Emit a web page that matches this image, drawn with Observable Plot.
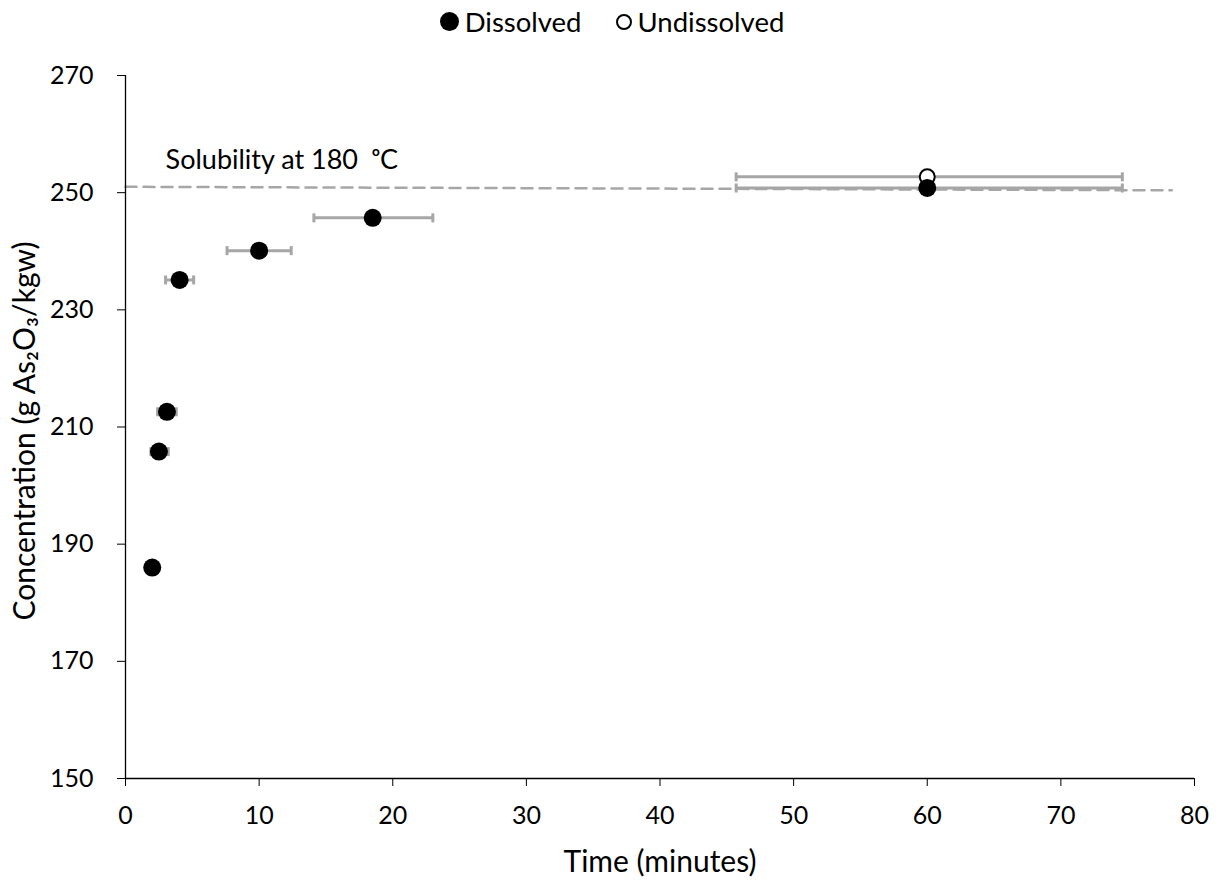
<!DOCTYPE html>
<html>
<head>
<meta charset="utf-8">
<script src="https://cdn.jsdelivr.net/npm/d3@7"></script>
<script src="https://cdn.jsdelivr.net/npm/@observablehq/plot@0.6"></script>
<style>
  body { margin: 0; background: #fff; font-family: Lato, "Noto Sans", sans-serif; }
  #legend { height: 40px; display: flex; justify-content: center; align-items: center; font-size: 27.5px; color: #000; gap: 34px; padding-top: 3px; box-sizing: border-box; }
  #legend span.item { display: inline-flex; align-items: center; gap: 6px; }
  .dot { display: inline-block; border-radius: 50%; box-sizing: border-box; }
</style>
</head>
<body>
<div id="legend">
  <span class="item"><span class="dot" style="width:19px;height:19px;background:#000"></span>Dissolved</span>
  <span class="item"><span class="dot" style="width:16px;height:16px;border:2px solid #000"></span>Undissolved</span>
</div>
<div id="chart"></div>
<script>
// Dissolved series
const dissolvedTime = [2, 2.5, 3.1, 4.05, 10, 18.5, 60];
const dissolvedConc = [186, 205.8, 212.6, 235.1, 240.1, 245.7, 250.8];
const dissolvedLo   = [2, 1.9, 2.4, 3.0, 7.6, 14.1, 45.7];
const dissolvedHi   = [2, 3.2, 3.8, 5.1, 12.4, 23.0, 74.6];
// Undissolved series
const undissolvedTime = [60];
const undissolvedConc = [252.7];
const undissolvedLo   = [45.7];
const undissolvedHi   = [74.6];
// Solubility line
const solTime = [0, 78.3];
const solConc = [251.0, 250.4];
const solLabel = "Solubility at 180  \u1D52C";
const xTicks = [0, 10, 20, 30, 40, 50, 60, 70, 80];
const yTicks = [150, 170, 190, 210, 230, 250, 270];

const dis = dissolvedTime.map((t, i) => ({t, c: dissolvedConc[i], lo: dissolvedLo[i], hi: dissolvedHi[i]}));
const und = undissolvedTime.map((t, i) => ({t, c: undissolvedConc[i], lo: undissolvedLo[i], hi: undissolvedHi[i]}));
const errs = [...dis, ...und].filter(d => d.hi > d.lo);
const sol = solTime.map((t, i) => ({t, c: solConc[i]}));

const capSymbol = { draw(ctx, size) { ctx.moveTo(0, -4.5); ctx.lineTo(0, 4.5); } };
const font = "Lato, 'Noto Sans', sans-serif";

const chart = Plot.plot({
  width: 1224,
  height: 840,
  marginLeft: 125,
  marginRight: 30,
  marginTop: 35,
  marginBottom: 102,
  style: { fontFamily: font, fontSize: "25px", color: "#000", background: "#fff" },
  x: { domain: [0, 80], ticks: xTicks, label: null },
  y: { domain: [150, 270], ticks: yTicks, label: null },
  marks: [
    Plot.line(sol, { x: "t", y: "c", stroke: "#a6a6a6", strokeWidth: 2.5, strokeDasharray: "11,7" }),
    Plot.text([solLabel], { x: () => 3.0, y: () => 255.6, text: d => d, textAnchor: "start", lineAnchor: "middle", fontSize: 27, fill: "#000" }),
    Plot.link(errs, { x1: "lo", x2: "hi", y1: "c", y2: "c", stroke: "#a6a6a6", strokeWidth: 3 }),
    Plot.dot(errs, { x: "lo", y: "c", symbol: capSymbol, stroke: "#a6a6a6", strokeWidth: 3, fill: "none", r: 4 }),
    Plot.dot(errs, { x: "hi", y: "c", symbol: capSymbol, stroke: "#a6a6a6", strokeWidth: 3, fill: "none", r: 4 }),
    Plot.dot(und, { x: "t", y: "c", r: 7.5, stroke: "#000", strokeWidth: 2, fill: "#fff" }),
    Plot.dot(dis, { x: "t", y: "c", r: 9, fill: "#000", stroke: "none" }),
    Plot.ruleX([0], { stroke: "#000", strokeWidth: 1.3 }),
    Plot.ruleY([150], { stroke: "#000", strokeWidth: 1.3 }),
    Plot.axisX({ ticks: xTicks, tickSize: 8, tickPadding: 20, label: null, fontSize: 25 }),
    Plot.axisY({ ticks: yTicks, tickSize: 8, tickPadding: 24, label: null, fontSize: 25 }),
    Plot.text(["Time (minutes)"], { frameAnchor: "bottom", text: d => d, dy: 84, lineAnchor: "middle", fontSize: 30, fill: "#000" }),
    Plot.text(["Concentration (g As\u2082O\u2083/kgw)"], { frameAnchor: "left", text: d => d, dx: -100, dy: 4, rotate: -90, textAnchor: "middle", lineAnchor: "middle", fontSize: 30, fill: "#000" })
  ]
});
document.getElementById("chart").appendChild(chart);
</script>
</body>
</html>
